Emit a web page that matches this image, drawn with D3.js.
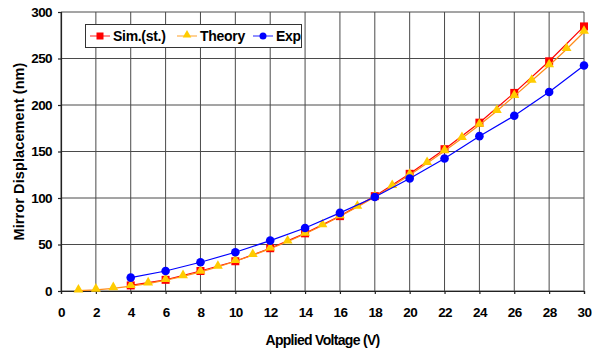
<!DOCTYPE html>
<html>
<head>
<meta charset="utf-8">
<script src="https://cdn.jsdelivr.net/npm/d3@7"></script>
<style>
  body { margin: 0; background: #fff; }
  svg { display: block; }
  text { font-family: "Liberation Sans", Arial, sans-serif; font-weight: bold; fill: #000; }
</style>
</head>
<body>
<svg id="chart" width="592" height="358"></svg>
<script>
// Mirror displacement vs applied voltage
const simVoltage = [4, 6, 8, 10, 12, 14, 16, 18, 20, 22, 24, 26, 28, 30];
const simValues  = [6, 12, 21.5, 32, 46, 62, 80.5, 102, 126, 152.5, 181, 213, 247, 284.5];

const theoryVoltage = [1, 2, 3, 4, 5, 6, 7, 8, 9, 10, 11, 12, 13, 14, 15, 16, 17, 18, 19, 20, 21, 22, 23, 24, 25, 26, 27, 28, 29, 30];
const theoryValues  = [0.3, 1.3, 2.9, 5.2, 8, 11.6, 15.8, 20.5, 25.8, 32, 38.5, 45.5, 53, 61.5, 70.5, 80.3, 90.4, 101, 112.7, 124.8, 137.4, 150.5, 164.3, 178.5, 193.5, 209.5, 226, 242.5, 260, 278.5];

const expVoltage = [4, 6, 8, 10, 12, 14, 16, 18, 20, 22, 24, 26, 28, 30];
const expValues  = [14.4, 21.5, 30.9, 41.7, 54.2, 67.8, 84, 101, 121, 142.5, 166.5, 188.4, 214, 242.5];

const xTicks = d3.range(0, 31, 2);
const yTicks = [0, 50, 100, 150, 200, 250, 300];

const svg = d3.select("#chart");
const margin = { left: 61, top: 12, right: 8, bottom: 67 };
const W = 592, H = 358;

const x = d3.scaleLinear().domain([0, 30]).range([margin.left, W - margin.right]);
const y = d3.scaleLinear().domain([0, 300]).range([H - margin.bottom, margin.top]);

const gridColor = "#4a4a4a";

// grid
svg.append("g").selectAll("line").data(xTicks).join("line")
  .attr("x1", d => x(d)).attr("x2", d => x(d))
  .attr("y1", y(0)).attr("y2", y(300))
  .attr("stroke", gridColor).attr("stroke-width", 1);
svg.append("g").selectAll("line").data(yTicks).join("line")
  .attr("x1", x(0)).attr("x2", x(30))
  .attr("y1", d => y(d)).attr("y2", d => y(d))
  .attr("stroke", gridColor).attr("stroke-width", 1);

// axes
const xAxis = svg.append("g").attr("transform", `translate(0,${y(0)})`)
  .call(d3.axisBottom(x).tickValues(xTicks).tickSize(3).tickPadding(13));
const yAxis = svg.append("g").attr("transform", `translate(${x(0)},0)`)
  .call(d3.axisLeft(y).tickValues(yTicks).tickSize(3).tickPadding(6));
[xAxis, yAxis].forEach(g => {
  g.selectAll("path, line").attr("stroke", "#222").attr("stroke-width", 1.2);
  g.selectAll("text").style("font-size", "13.5px").style("font-weight", "bold")
    .style("letter-spacing", "-0.6px")
    .style("font-family", '"Liberation Sans", Arial, sans-serif').attr("fill", "#000");
});

// axis titles
svg.append("text").attr("x", x(15)).attr("y", 345).attr("text-anchor", "middle")
  .style("font-size", "14px").style("letter-spacing", "-0.7px").text("Applied Voltage (V)");
svg.append("text").attr("transform", `translate(24,${y(150)}) rotate(-90)`)
  .attr("text-anchor", "middle").style("font-size", "14.5px").style("letter-spacing", "0.1px")
  .text("Mirror Displacement (nm)");

const line = d3.line().x(d => x(d[0])).y(d => y(d[1]));
const simData = simVoltage.map((v, i) => [v, simValues[i]]);
const theoryData = theoryVoltage.map((v, i) => [v, theoryValues[i]]);
const expData = expVoltage.map((v, i) => [v, expValues[i]]);

// Sim series
svg.append("path").datum(simData).attr("d", line).attr("fill", "none")
  .attr("stroke", "#ff0000").attr("stroke-width", 1.2);
svg.append("g").selectAll("rect").data(simData).join("rect")
  .attr("x", d => x(d[0]) - 4).attr("y", d => y(d[1]) - 4)
  .attr("width", 8).attr("height", 8).attr("fill", "#ff0000");

// Theory series
svg.append("path").datum(theoryData).attr("d", line).attr("fill", "none")
  .attr("stroke", "#ff8c1a").attr("stroke-width", 1.2);
const tri = d3.symbol().type(d3.symbolTriangle).size(42);
svg.append("g").selectAll("path").data(theoryData).join("path")
  .attr("d", tri).attr("transform", d => `translate(${x(d[0])},${y(d[1]) - 1})`)
  .attr("fill", "#ffcc00");

// Exp series
svg.append("path").datum(expData).attr("d", line).attr("fill", "none")
  .attr("stroke", "#0000ff").attr("stroke-width", 1.2);
svg.append("g").selectAll("circle").data(expData).join("circle")
  .attr("cx", d => x(d[0])).attr("cy", d => y(d[1])).attr("r", 4.3)
  .attr("fill", "#0000ff");

// legend
const legend = svg.append("g");
legend.append("rect").attr("x", 85.5).attr("y", 24.5).attr("width", 216).attr("height", 23)
  .attr("fill", "#fff").attr("stroke", "#333").attr("stroke-width", 1);
const items = [
  { label: "Sim.(st.)", x0: 90, line: "#ff6a6a", mark: "square", color: "#ff0000" },
  { label: "Theory", x0: 177, line: "#ffc070", mark: "triangle", color: "#ffcc00" },
  { label: "Exp", x0: 253, line: "#6a6aff", mark: "circle", color: "#0000ff" }
];
const ly = 36;
items.forEach(it => {
  legend.append("line").attr("x1", it.x0).attr("x2", it.x0 + 20).attr("y1", ly).attr("y2", ly)
    .attr("stroke", it.line).attr("stroke-width", 1.5);
  const cx = it.x0 + 10;
  if (it.mark === "square") {
    legend.append("rect").attr("x", cx - 3.5).attr("y", ly - 3.5).attr("width", 7).attr("height", 7).attr("fill", it.color);
  } else if (it.mark === "triangle") {
    legend.append("path").attr("d", d3.symbol().type(d3.symbolTriangle).size(32))
      .attr("transform", `translate(${cx},${ly - 1})`).attr("fill", it.color);
  } else {
    legend.append("circle").attr("cx", cx).attr("cy", ly).attr("r", 3.5).attr("fill", it.color);
  }
  legend.append("text").attr("x", it.x0 + 23).attr("y", ly + 5).style("font-size", "14px")
    .style("letter-spacing", "-0.3px").text(it.label);
});
</script>
</body>
</html>
